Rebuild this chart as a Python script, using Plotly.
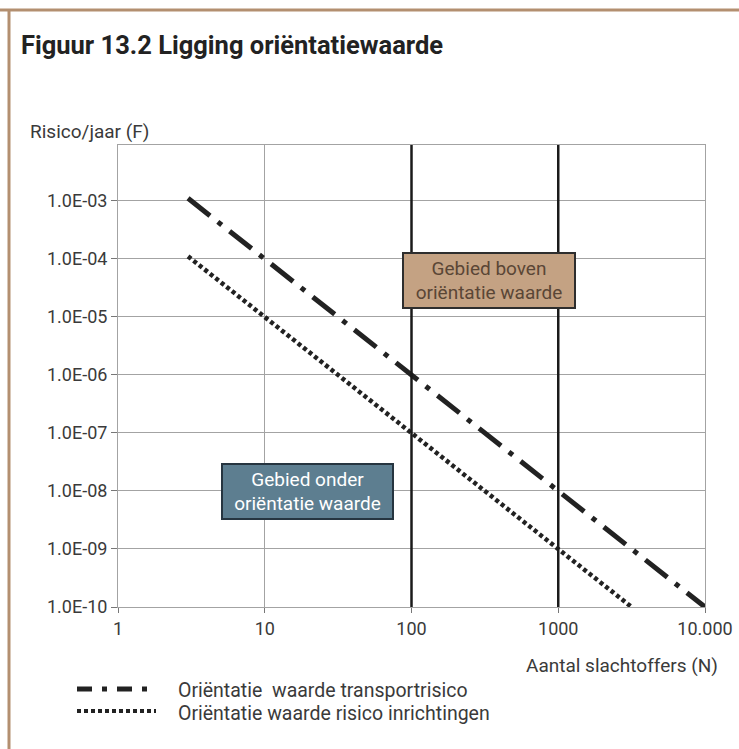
import plotly.graph_objects as go

# ---- data ----
N_transport = [3, 10, 100, 1000, 10000]
F_transport = [1.1e-3, 1e-4, 1e-6, 1e-8, 1e-10]
N_inrichting = [3, 10, 100, 1000, 3160]
F_inrichting = [1.1e-4, 1e-5, 1e-7, 1e-9, 1e-10]

x_tickvals = [1, 10, 100, 1000, 10000]
x_ticktext = ["1", "10", "100", "1000", "10.000"]
y_tickvals = [1e-10, 1e-9, 1e-8, 1e-7, 1e-6, 1e-5, 1e-4, 1e-3]
y_ticktext = ["1.0E-10", "1.0E-09", "1.0E-08", "1.0E-07", "1.0E-06",
              "1.0E-05", "1.0E-04", "1.0E-03"]
thick_grid_N = [100, 1000]

name_transport = "Oriëntatie  waarde transportrisico"
name_inrichting = "Oriëntatie waarde risico inrichtingen"

# ---- layout geometry ----
W, H = 739, 749
L, R, T, B = 118, 34, 145, 142
PW, PH = W - L - R, H - T - B


def px_x(p):
    return (p - L) / PW


def px_y(p):
    return (H - B - p) / PH


FONT = "Roboto, 'Open Sans', sans-serif"
DASHDOT = "28px,10px,5px,10px"
DOTTED = "4px,3px"
LINECOL = "#222222"

fig = go.Figure()
fig.add_trace(go.Scatter(x=N_transport, y=F_transport, mode="lines",
                         name=name_transport, showlegend=False,
                         line=dict(color=LINECOL, width=5, dash=DASHDOT)))
fig.add_trace(go.Scatter(x=N_inrichting, y=F_inrichting, mode="lines",
                         name=name_inrichting, showlegend=False,
                         line=dict(color=LINECOL, width=4.5, dash=DOTTED)))

shapes = []
for n in thick_grid_N:
    shapes.append(dict(type="line", xref="x", yref="paper", x0=n, x1=n,
                       y0=0, y1=1, layer="above",
                       line=dict(color="#1a1a1a", width=2.5)))
# outer frame lines (top and left)
BORDER = "#b38f70"
shapes.append(dict(type="line", xref="paper", yref="paper",
                   x0=px_x(0), x1=px_x(W + 5), y0=px_y(10), y1=px_y(10),
                   line=dict(color=BORDER, width=3)))
shapes.append(dict(type="line", xref="paper", yref="paper",
                   x0=px_x(9), x1=px_x(9), y0=px_y(10), y1=px_y(H),
                   line=dict(color=BORDER, width=3)))
# legend samples
shapes.append(dict(type="line", xref="paper", yref="paper",
                   x0=px_x(77), x1=px_x(152), y0=px_y(689), y1=px_y(689),
                   line=dict(color=LINECOL, width=5, dash="15px,10px,5px,10px")))
shapes.append(dict(type="line", xref="paper", yref="paper",
                   x0=px_x(77), x1=px_x(156), y0=px_y(711), y1=px_y(711),
                   line=dict(color=LINECOL, width=4, dash="4px,3px")))

TXT = "#3a3a3a"
annotations = [
    dict(text="<b>Figuur 13.2 Ligging oriëntatiewaarde</b>", xref="paper", yref="paper",
         x=px_x(19), y=px_y(45), xanchor="left", yanchor="middle", showarrow=False,
         font=dict(family=FONT, size=25.5, color="#222222")),
    dict(text="Risico/jaar (F)", xref="paper", yref="paper",
         x=px_x(28), y=px_y(131), xanchor="left", yanchor="middle", showarrow=False,
         font=dict(family=FONT, size=19, color=TXT)),
    dict(text="Aantal slachtoffers (N)", xref="paper", yref="paper",
         x=px_x(720), y=px_y(665), xanchor="right", yanchor="middle", showarrow=False,
         font=dict(family=FONT, size=19, color=TXT)),
    dict(text="Gebied boven<br>oriëntatie waarde", xref="paper", yref="paper",
         x=px_x(489), y=px_y(280), xanchor="center", yanchor="middle", showarrow=False,
         width=168, height=51, bgcolor="#c4a283", bordercolor="#2e2e2e",
         borderwidth=2, borderpad=1,
         font=dict(family=FONT, size=19, color="#5a4636")),
    dict(text="Gebied onder<br>oriëntatie waarde", xref="paper", yref="paper",
         x=px_x(307), y=px_y(491), xanchor="center", yanchor="middle", showarrow=False,
         width=167, height=51, bgcolor="#5d7e90", bordercolor="#263540",
         borderwidth=2, borderpad=1,
         font=dict(family=FONT, size=19, color="#ffffff")),
    dict(text=name_transport, xref="paper", yref="paper",
         x=px_x(176), y=px_y(690), xanchor="left", yanchor="middle", showarrow=False,
         font=dict(family=FONT, size=19.5, color=TXT)),
    dict(text=name_inrichting, xref="paper", yref="paper",
         x=px_x(176), y=px_y(713), xanchor="left", yanchor="middle", showarrow=False,
         font=dict(family=FONT, size=19.5, color=TXT)),
]

GRID = "#a3a3a3"
fig.update_layout(
    width=W, height=H, autosize=False,
    margin=dict(l=L, r=R, t=T, b=B, pad=0, autoexpand=False),
    paper_bgcolor="#ffffff", plot_bgcolor="#ffffff",
    showlegend=False,
    shapes=shapes, annotations=annotations,
    xaxis=dict(type="log", range=[0, 4], tickvals=x_tickvals, ticktext=x_ticktext,
               automargin=False, ticklabeloverflow="allow",
               showgrid=True, gridcolor=GRID, gridwidth=1,
               showline=True, linecolor=GRID, linewidth=1, mirror=True,
               ticks="outside", ticklen=5, tickcolor="#777777", tickwidth=1,
               tickfont=dict(family=FONT, size=18, color=TXT), zeroline=False),
    yaxis=dict(type="log", range=[-10, -2.04], tickvals=y_tickvals, ticktext=y_ticktext,
               automargin=False, ticklabeloverflow="allow",
               showgrid=True, gridcolor=GRID, gridwidth=1,
               showline=True, linecolor=GRID, linewidth=1, mirror=True,
               ticks="outside", ticklen=6, tickcolor="#777777", tickwidth=1,
               tickfont=dict(family=FONT, size=18, color=TXT), zeroline=False),
)

fig.write_html("out.html",
               config={"displayModeBar": False, "staticPlot": True},
               post_script=("document.body.style.margin='0';"
                            "document.body.style.padding='0';"
                            "document.body.style.overflow='hidden';"
                            "document.documentElement.style.overflow='hidden';"))
